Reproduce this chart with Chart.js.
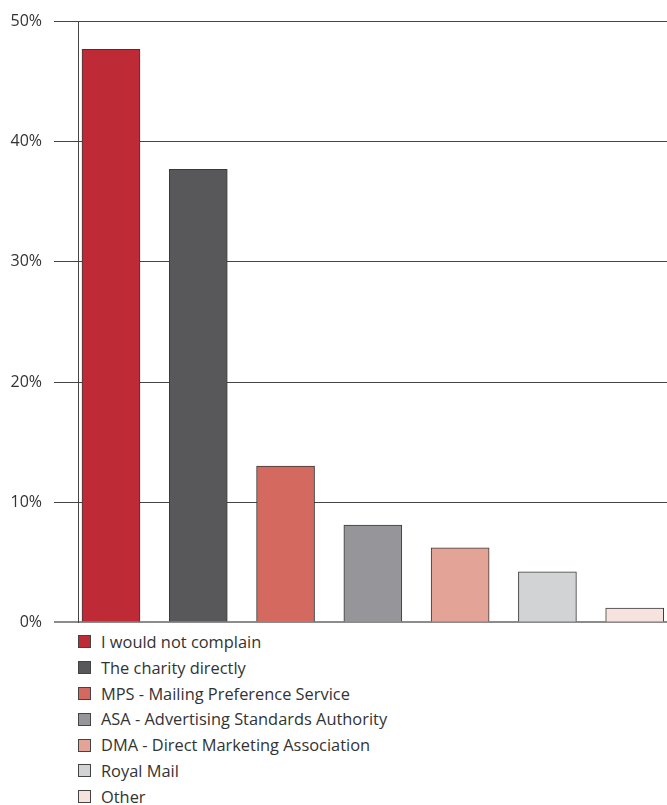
<!DOCTYPE html>
<html>
<head>
<meta charset="utf-8">
<script src="https://cdn.jsdelivr.net/npm/chart.js@4"></script>
<style>
    html, body { margin: 0; padding: 0; background: #fff; overflow: hidden; }
    #wrap { position: relative; width: 667px; height: 644px; }
    #legend { list-style: none; margin: -15px 0 0 0; padding: 0 0 0 78px; font-family: "Open Sans", Lato, sans-serif; font-size: 16.4px; color: #333; }
    #legend li { height: 25.8px; line-height: 25.8px; display: flex; align-items: center; }
    #legend .box { width: 13px; height: 13px; border: 1px solid #444; box-sizing: border-box; margin-right: 10px; }
</style>
</head>
<body>
<div id="wrap"><canvas id="complaintChart"></canvas></div>
<ul id="legend"></ul>
<script>
// ============================================
// WHO WOULD YOU COMPLAIN TO - BAR CHART
// ============================================

const categories = [
    'I would not complain',
    'The charity directly',
    'MPS - Mailing Preference Service',
    'ASA - Advertising Standards Authority',
    'DMA - Direct Marketing Association',
    'Royal Mail',
    'Other',
];
const shares = [47.7, 37.7, 13.0, 8.1, 6.2, 4.2, 1.2];
const barColors = ['#be2a36', '#58585a', '#d3695f', '#96969a', '#e3a396', '#d1d3d4', '#f6e3de'];
const yTicks = [0, 10, 20, 30, 40, 50];

const points = shares.map((v, i) => ({ x: i, y: v }));

const ctx = document.getElementById('complaintChart');
const chart = new Chart(ctx, {
    type: 'bar',
    data: {
        datasets: [
            {
                data: points,
                backgroundColor: barColors,
                borderColor: '#3a3a3a',
                borderWidth: 1,
                barThickness: 58,
            },
        ],
    },
    options: {
        responsive: true,
        maintainAspectRatio: false,
        animation: false,
        layout: { padding: { top: 13, right: 0, bottom: 3, left: 0 } },
        plugins: {
            legend: { display: false },
            tooltip: { enabled: false },
        },
        scales: {
            x: {
                type: 'linear',
                min: -0.378,
                max: 6.37,
                offset: false,
                display: false,
                ticks: { stepSize: 1, includeBounds: false },
            },
            y: {
                min: 0,
                max: 50,
                afterFit: (scale) => { scale.width = 78; },
                afterBuildTicks: (scale) => { scale.ticks = yTicks.map((v) => ({ value: v })); },
                border: { display: true, color: '#444', width: 1 },
                grid: {
                    color: (c) => (c.tick && c.tick.value === 0 ? '#8c8c8c' : '#444'),
                    lineWidth: (c) => (c.tick && c.tick.value === 0 ? 2 : 1),
                    tickLength: 24,
                },
                ticks: {
                    padding: 12,
                    color: '#333',
                    font: { family: '"Open Sans", Lato, sans-serif', size: 16 },
                    callback: (value) => value + '%',
                },
            },
        },
    },
});

// legend entries, one per bar
const legend = document.getElementById('legend');
categories.forEach((label, i) => {
    const li = document.createElement('li');
    li.innerHTML = `<span class="box" style="background:${barColors[i]}"></span>${label}`;
    legend.appendChild(li);
});
</script>
</body>
</html>
